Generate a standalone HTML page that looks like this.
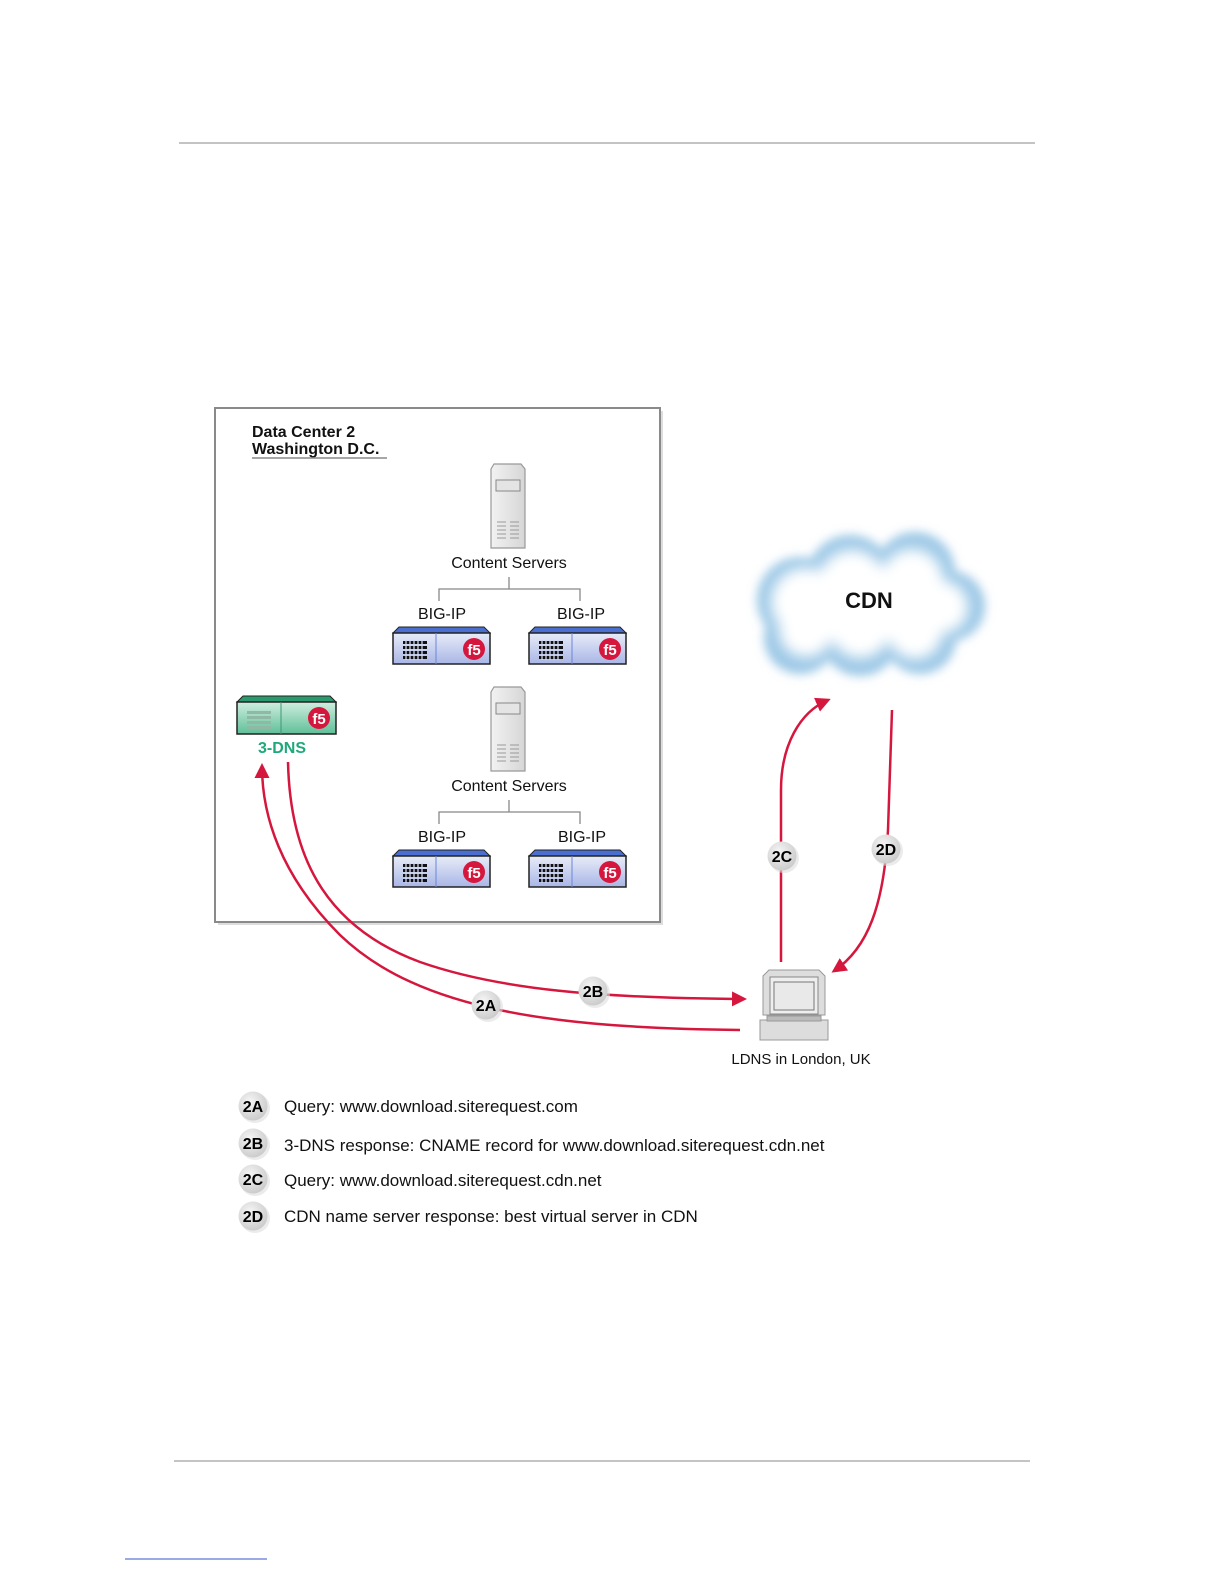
<!DOCTYPE html>
<html><head><meta charset="utf-8"><style>
html,body{margin:0;padding:0;background:#fff}
svg{display:block}
text{font-family:"Liberation Sans",Arial,sans-serif}
</style></head><body>
<svg width="1224" height="1584" viewBox="0 0 1224 1584" xmlns="http://www.w3.org/2000/svg">
<defs>
<linearGradient id="bp" x1="0" y1="0" x2="0" y2="1"><stop offset="0" stop-color="#e8ecf8"/><stop offset="1" stop-color="#a9b6e6"/></linearGradient>
<linearGradient id="gp" x1="0" y1="0" x2="0" y2="1"><stop offset="0" stop-color="#cfeee0"/><stop offset="1" stop-color="#5fbf98"/></linearGradient>
<linearGradient id="sv" x1="0" y1="0" x2="1" y2="0"><stop offset="0" stop-color="#f2f2f2"/><stop offset="1" stop-color="#d6d6d6"/></linearGradient>
<radialGradient id="bd" cx="0.4" cy="0.35" r="0.7"><stop offset="0" stop-color="#f6f6f6"/><stop offset="1" stop-color="#c9c9c9"/></radialGradient>
<filter id="blur1" x="-20%" y="-20%" width="140%" height="140%"><feGaussianBlur stdDeviation="5"/></filter>
<filter id="blur2" x="-20%" y="-20%" width="140%" height="140%"><feGaussianBlur stdDeviation="7"/></filter>
<marker id="ar" viewBox="0 0 10 10" refX="8" refY="5" markerWidth="6" markerHeight="6" orient="auto"><path d="M0,0 L10,5 L0,10 z" fill="#d5173e"/></marker>
<g id="bigip">
<path d="M6,0 H91 L97,6 H0 Z" fill="#4a6fd0" stroke="#222" stroke-width="1"/>
<rect x="0" y="6" width="97" height="31" fill="url(#bp)" stroke="#222" stroke-width="1.5"/>
<line x1="43" y1="6" x2="43" y2="37" stroke="#6b86d8"/>
<g fill="#111">
<rect x="10" y="14" width="24" height="3"/><rect x="10" y="19" width="24" height="3"/><rect x="10" y="24" width="24" height="3"/><rect x="10" y="29" width="24" height="3"/>
</g>
<g stroke="#cfd6f0" stroke-width="1.3"><line x1="13" y1="13" x2="13" y2="33"/><line x1="17" y1="13" x2="17" y2="33"/><line x1="21" y1="13" x2="21" y2="33"/><line x1="25" y1="13" x2="25" y2="33"/><line x1="29" y1="13" x2="29" y2="33"/></g>
<circle cx="81" cy="22" r="11" fill="#d5173e"/>
<text x="81" y="28" font-size="15" font-weight="bold" fill="#fff" text-anchor="middle" font-family="Liberation Serif,serif">f5</text>
</g>
<g id="server">
<path d="M3,0 H30 L34,5 V84 H0 V5 Z" fill="url(#sv)" stroke="#999" stroke-width="1.2"/>
<rect x="5" y="16" width="24" height="11" fill="#e4e4e4" stroke="#888"/>
<g stroke="#999" stroke-width="1"><line x1="6" y1="58" x2="15" y2="58"/><line x1="19" y1="58" x2="28" y2="58"/><line x1="6" y1="62" x2="15" y2="62"/><line x1="19" y1="62" x2="28" y2="62"/><line x1="6" y1="66" x2="15" y2="66"/><line x1="19" y1="66" x2="28" y2="66"/><line x1="6" y1="70" x2="15" y2="70"/><line x1="19" y1="70" x2="28" y2="70"/><line x1="6" y1="74" x2="15" y2="74"/><line x1="19" y1="74" x2="28" y2="74"/></g>
</g>
<g id="badge"><circle cx="2" cy="2" r="15" fill="#ddd" opacity="0.6"/><circle cx="0" cy="0" r="14.5" fill="url(#bd)"/></g>
</defs>

<line x1="179" y1="143" x2="1035" y2="143" stroke="#888" stroke-width="1"/>
<line x1="174" y1="1461" x2="1030" y2="1461" stroke="#888" stroke-width="1"/>
<line x1="125" y1="1559" x2="267" y2="1559" stroke="#3355cc" stroke-width="1"/>

<rect x="218" y="411" width="445" height="514" fill="#ddd"/>
<rect x="215" y="408" width="445" height="514" fill="#fff" stroke="#8a8a8a" stroke-width="2"/>
<text x="252" y="437" font-size="16" font-weight="bold" fill="#111">Data Center 2</text>
<text x="252" y="454" font-size="16" font-weight="bold" fill="#111">Washington D.C.</text>
<line x1="252" y1="458" x2="387" y2="458" stroke="#888" stroke-width="1.5"/>

<use href="#server" x="491" y="464"/>
<text x="509" y="568" font-size="16" text-anchor="middle" fill="#111">Content Servers</text>
<path d="M509,577 V589 M439,601 V589 H580 V601" fill="none" stroke="#888" stroke-width="1.3"/>
<text x="442" y="619" font-size="16" text-anchor="middle" fill="#111">BIG-IP</text>
<text x="581" y="619" font-size="16" text-anchor="middle" fill="#111">BIG-IP</text>
<use href="#bigip" x="393" y="627"/>
<use href="#bigip" x="529" y="627"/>

<use href="#server" x="491" y="687"/>
<text x="509" y="791" font-size="16" text-anchor="middle" fill="#111">Content Servers</text>
<path d="M509,800 V812 M439,824 V812 H580 V824" fill="none" stroke="#888" stroke-width="1.3"/>
<text x="442" y="842" font-size="16" text-anchor="middle" fill="#111">BIG-IP</text>
<text x="582" y="842" font-size="16" text-anchor="middle" fill="#111">BIG-IP</text>
<use href="#bigip" x="393" y="850"/>
<use href="#bigip" x="529" y="850"/>

<g transform="translate(237,696)">
<path d="M6,0 H93 L99,6 H0 Z" fill="#2a9a6e" stroke="#222"/>
<rect x="0" y="6" width="99" height="32" fill="url(#gp)" stroke="#222" stroke-width="1.5"/>
<line x1="44" y1="6" x2="44" y2="38" stroke="#3a9a75"/>
<g fill="#8fb8a5"><rect x="10" y="15" width="24" height="3"/><rect x="10" y="20" width="24" height="3"/><rect x="10" y="25" width="24" height="3"/><rect x="10" y="30" width="24" height="3"/></g>
<circle cx="82" cy="22" r="11" fill="#d5173e"/>
<text x="82" y="28" font-size="15" font-weight="bold" fill="#fff" text-anchor="middle" font-family="Liberation Serif,serif">f5</text>
</g>
<text x="282" y="753" font-size="16" font-weight="bold" text-anchor="middle" fill="#1fa87a">3-DNS</text>

<g filter="url(#blur1)" fill="#9cc8e6">
<circle cx="800" cy="600" r="43"/><circle cx="850" cy="578" r="43"/><circle cx="915" cy="572" r="40"/><circle cx="950" cy="606" r="35"/><circle cx="920" cy="638" r="36"/><circle cx="860" cy="638" r="38"/><circle cx="800" cy="638" r="36"/>
</g>
<g filter="url(#blur2)" fill="#fff">
<circle cx="805" cy="602" r="34"/><circle cx="852" cy="584" r="34"/><circle cx="912" cy="580" r="31"/><circle cx="942" cy="607" r="26"/><circle cx="915" cy="632" r="27"/><circle cx="860" cy="628" r="30"/><circle cx="806" cy="630" r="27"/><circle cx="868" cy="606" r="40"/>
</g>
<text x="869" y="608" font-size="22" font-weight="bold" text-anchor="middle" fill="#111">CDN</text>

<g fill="none" stroke="#d5173e" stroke-width="2.5">
<path d="M740,1030 C560,1028 420,1012 340,935 C280,875 262,815 262,766" marker-end="url(#ar)"/>
<path d="M288,762 C290,850 320,925 420,962 C500,990 600,998 744,999" marker-end="url(#ar)"/>
<path d="M781,962 L781,790 C781,745 800,712 828,700" marker-end="url(#ar)"/>
<path d="M892,710 L888,830 C884,905 868,948 834,971" marker-end="url(#ar)"/>
</g>

<g transform="translate(763,970)">
<path d="M6,0 H56 L62,6 V45 H0 V6 Z" fill="#ddd" stroke="#999"/>
<rect x="7" y="7" width="48" height="37" fill="#eee" stroke="#888"/>
<rect x="11" y="12" width="40" height="28" fill="#e9e9e9" stroke="#777"/>
<rect x="-3" y="50" width="68" height="20" fill="#ddd" stroke="#999"/>
<rect x="4" y="46" width="54" height="5" fill="#bbb" stroke="#999"/>
</g>
<text x="801" y="1064" font-size="15" text-anchor="middle" fill="#111">LDNS in London, UK</text>

<use href="#badge" x="486" y="1005"/><text x="486" y="1011" font-size="16" font-weight="bold" text-anchor="middle">2A</text>
<use href="#badge" x="593" y="991"/><text x="593" y="997" font-size="16" font-weight="bold" text-anchor="middle">2B</text>
<use href="#badge" x="782" y="856"/><text x="782" y="862" font-size="16" font-weight="bold" text-anchor="middle">2C</text>
<use href="#badge" x="886" y="849"/><text x="886" y="855" font-size="16" font-weight="bold" text-anchor="middle">2D</text>

<use href="#badge" x="253" y="1106"/><text x="253" y="1112" font-size="16" font-weight="bold" text-anchor="middle">2A</text>
<use href="#badge" x="253" y="1143"/><text x="253" y="1149" font-size="16" font-weight="bold" text-anchor="middle">2B</text>
<use href="#badge" x="253" y="1179"/><text x="253" y="1185" font-size="16" font-weight="bold" text-anchor="middle">2C</text>
<use href="#badge" x="253" y="1216"/><text x="253" y="1222" font-size="16" font-weight="bold" text-anchor="middle">2D</text>
<g font-size="17" fill="#111">
<text x="284" y="1112">Query: www.download.siterequest.com</text>
<text x="284" y="1151">3-DNS response: CNAME record for www.download.siterequest.cdn.net</text>
<text x="284" y="1186">Query: www.download.siterequest.cdn.net</text>
<text x="284" y="1222">CDN name server response: best virtual server in CDN</text>
</g>
</svg>
</body></html>
